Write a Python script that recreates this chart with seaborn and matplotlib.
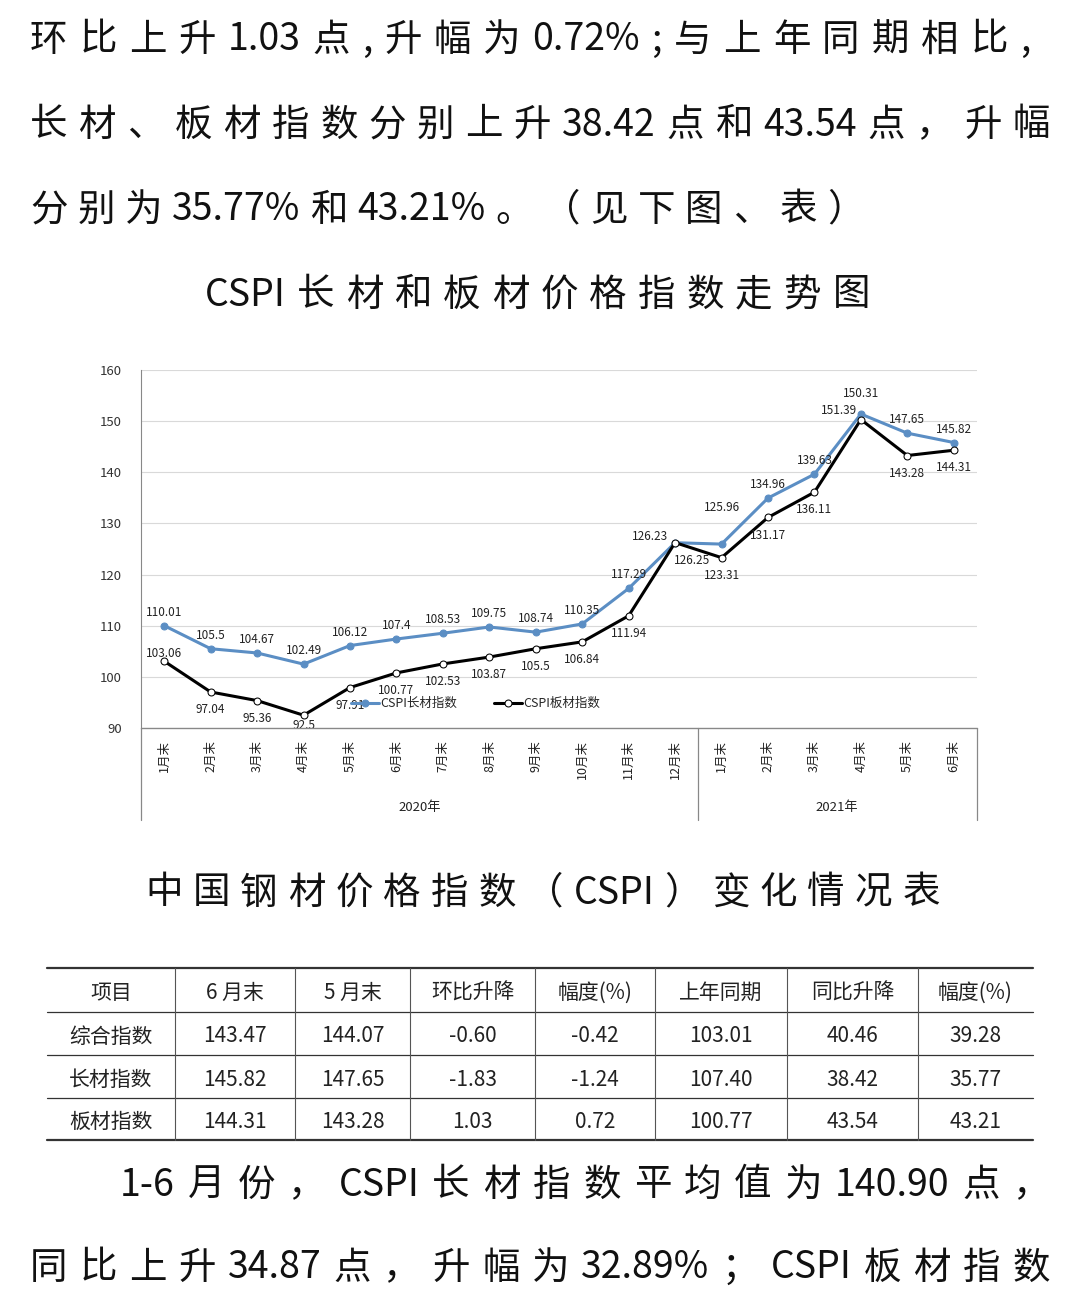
import re
import numpy as np
import pandas as pd
import seaborn as sns
import matplotlib.pyplot as plt
from matplotlib.lines import Line2D

months = ['1月末', '2月末', '3月末', '4月末', '5月末', '6月末', '7月末', '8月末', '9月末',
          '10月末', '11月末', '12月末', '1月末', '2月末', '3月末', '4月末', '5月末', '6月末']
long_idx = [110.01, 105.5, 104.67, 102.49, 106.12, 107.4, 108.53, 109.75, 108.74,
            110.35, 117.29, 126.23, 125.96, 134.96, 139.63, 151.39, 147.65, 145.82]
plate_idx = [103.06, 97.04, 95.36, 92.5, 97.91, 100.77, 102.53, 103.87, 105.5,
             106.84, 111.94, 126.25, 123.31, 131.17, 136.11, 150.31, 143.28, 144.31]
years = ['2020年', '2021年']

para_top = ['环比上升 1.03 点,升幅为 0.72%;与上年同期相比,',
            '长材、板材指数分别上升 38.42 点和 43.54 点，升幅',
            '分别为 35.77%和 43.21%。（见下图、表）']
para_bottom = ['1-6 月份，CSPI 长材指数平均值为 140.90 点，',
               '同比上升 34.87 点，升幅为 32.89%；CSPI 板材指数']
chart_title = 'CSPI 长材和板材价格指数走势图'
table_title = '中国钢材价格指数（CSPI）变化情况表'
table_header = ['项目', '6 月末', '5 月末', '环比升降', '幅度(%)', '上年同期', '同比升降', '幅度(%)']
table_rows = [['综合指数', '143.47', '144.07', '-0.60', '-0.42', '103.01', '40.46', '39.28'],
              ['长材指数', '145.82', '147.65', '-1.83', '-1.24', '107.40', '38.42', '35.77'],
              ['板材指数', '144.31', '143.28', '1.03', '0.72', '100.77', '43.54', '43.21']]

sns.set_style('white')
plt.rcParams['font.family'] = ['Noto Sans CJK SC', 'DejaVu Sans']

W, H = 1080, 1306
fig = plt.figure(figsize=(W / 100, H / 100), dpi=100)
renderer = fig.canvas.get_renderer()

def fx(x): return x / W
def fy(y): return 1 - y / H


def spread_text(s, x0, x1, yc, size):
    # justify a line between pixel x0 and x1 by spreading its tokens
    tokens = re.findall(r'[A-Za-z0-9.%\-]+|\s|.', s)
    tokens = [t for t in tokens if t != ' ']
    widths = []
    for t in tokens:
        tt = fig.text(0, 0, t, fontsize=size)
        widths.append(tt.get_window_extent(renderer).width)
        tt.remove()
    gap = (x1 - x0 - sum(widths)) / max(len(tokens) - 1, 1)
    x = x0
    for t, w in zip(tokens, widths):
        fig.text(fx(x), fy(yc), t, fontsize=size, va='center', ha='left', color='#111')
        x += w + gap


spread_text(para_top[0], 30, 1030, 40, 27)
spread_text(para_top[1], 30, 1050, 125, 27)
spread_text(para_top[2], 30, 865, 210, 27)
spread_text(chart_title, 205, 870, 295, 27)
spread_text(table_title, 145, 940, 893, 27)
spread_text(para_bottom[0], 120, 1050, 1185, 27)
spread_text(para_bottom[1], 30, 1050, 1268, 27)

# chart
ax = fig.add_axes([fx(141), fy(728), fx(977) - fx(141), fy(370) - fy(728)])
df = pd.DataFrame({'x': np.arange(len(months)) + 0.5, 'long': long_idx, 'plate': plate_idx})
blue = '#5b8ec4'
sns.lineplot(data=df, x='x', y='long', ax=ax, color=blue, lw=2.2, marker='o',
             markersize=5, markeredgecolor=blue, label='CSPI长材指数')
sns.lineplot(data=df, x='x', y='plate', ax=ax, color='black', lw=2.2, marker='o',
             markersize=5, markerfacecolor='white', markeredgecolor='black', label='CSPI板材指数')
ax.set_xlim(0, len(months))
ax.set_ylim(90, 160)
ax.set_yticks(range(90, 161, 10))
ax.tick_params(axis='y', labelsize=9.5, colors='#333', length=0, pad=14)
ax.set_xticks([])
ax.set_xlabel('')
ax.set_ylabel('')
ax.grid(axis='y', color='#d9d9d9', lw=0.8)
for s in ['top', 'right']:
    ax.spines[s].set_visible(False)
ax.spines['left'].set_color('#888')
ax.spines['bottom'].set_color('#888')

for i in range(len(months)):
    x = i + 0.5
    bdy, pdy, bdx, pdx = 5, -8, 0, 0
    if i == 0:
        pdx, pdy = 0, 1
    if i == 3:
        pdy = -3
    if i == 11:
        bdx, bdy, pdx, pdy = -18, 0, 12, -8
    if i == 12:
        bdy = 22
    if i == 15:
        bdx, bdy, pdy = -16, -2, 14
    ax.annotate(f'{long_idx[i]:g}', (x, long_idx[i]), xytext=(bdx, bdy), textcoords='offset points',
                ha='center', va='bottom', fontsize=8.5, color='#222')
    ax.annotate(f'{plate_idx[i]:g}', (x, plate_idx[i]), xytext=(pdx, pdy), textcoords='offset points',
                ha='center', va='top' if pdy < 0 else 'bottom', fontsize=8.5, color='#222')

ax.legend(loc='center', bbox_to_anchor=(0.4, 0.068), ncol=2, frameon=False, fontsize=9,
          handlelength=2.2, columnspacing=3, handletextpad=0.1)

# category area
for xp in [141, 698, 977]:
    fig.add_artist(Line2D([fx(xp), fx(xp)], [fy(728), fy(820)], color='#888', lw=0.9))
fig.add_artist(Line2D([fx(141), fx(977)], [fy(728), fy(728)], color='#888', lw=0.9))
for i, m in enumerate(months):
    xp = 141 + (i + 0.5) * (977 - 141) / len(months)
    fig.text(fx(xp), fy(740), m, rotation=90, fontsize=9, ha='center', va='top', color='#222')
fig.text(fx(420), fy(808), years[0], fontsize=9.5, ha='center', va='center', color='#222')
fig.text(fx(837), fy(808), years[1], fontsize=9.5, ha='center', va='center', color='#222')

# table
col_edges = [47, 175, 295, 410, 535, 655, 787, 918, 1033]
row_edges = [968, 1012, 1055, 1098, 1140]
for k, yp in enumerate(row_edges):
    lw = 1.6 if k in (0, len(row_edges) - 1) else 0.9
    fig.add_artist(Line2D([fx(47), fx(1033)], [fy(yp), fy(yp)], color='#333', lw=lw))
for xp in col_edges[1:-1]:
    fig.add_artist(Line2D([fx(xp), fx(xp)], [fy(968), fy(1140)], color='#555', lw=0.8))
for r, row in enumerate([table_header] + table_rows):
    yc = (row_edges[r] + row_edges[r + 1]) / 2 + 3
    for c, val in enumerate(row):
        xc = (col_edges[c] + col_edges[c + 1]) / 2
        fig.text(fx(xc), fy(yc), val, fontsize=15, ha='center', va='center', color='#222')

fig.savefig('out.png', dpi=100)
